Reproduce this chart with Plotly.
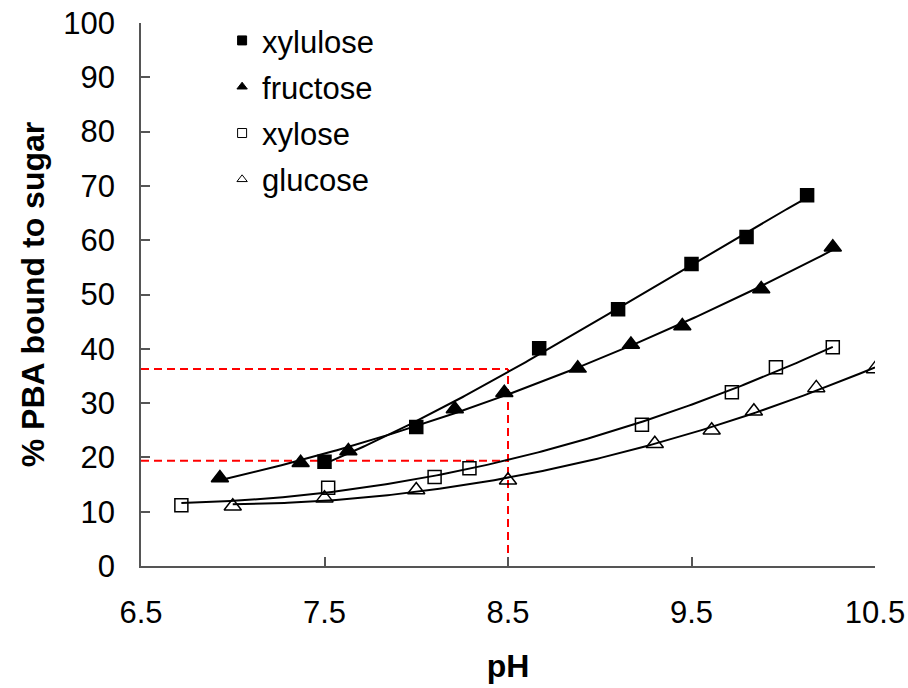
import numpy as np
import plotly.graph_objects as go

# ---- data ----
xylulose_ph = [7.50, 8.00, 8.67, 9.10, 9.50, 9.80, 10.13]
xylulose_pct = [19.2, 25.6, 40.1, 47.3, 55.6, 60.6, 68.3]

fructose_ph = [6.93, 7.37, 7.63, 8.21, 8.48, 8.88, 9.17, 9.45, 9.88, 10.27]
fructose_pct = [16.2, 19.0, 21.2, 28.9, 31.9, 36.4, 40.8, 44.2, 51.0, 58.7]

xylose_ph = [6.72, 7.52, 8.10, 8.29, 9.23, 9.72, 9.96, 10.27]
xylose_pct = [11.2, 14.4, 16.4, 18.0, 26.0, 32.0, 36.6, 40.3]

glucose_ph = [7.00, 7.50, 8.00, 8.50, 9.30, 9.61, 9.84, 10.18, 10.50]
glucose_pct = [11.0, 12.5, 14.0, 15.8, 22.5, 25.0, 28.5, 32.8, 36.3]

ref_ph = 8.5
ref_levels = [36.3, 19.4]

x_ticks = [6.5, 7.5, 8.5, 9.5, 10.5]
y_ticks = list(range(0, 101, 10))

FONT = "Arial, Liberation Sans, sans-serif"

series = [
    ("xylulose", xylulose_ph, xylulose_pct, "square", "black", 13, 3),
    ("fructose", fructose_ph, fructose_pct, "triangle-up", "black", 15, 2),
    ("xylose", xylose_ph, xylose_pct, "square-open", "black", 13, 2),
    ("glucose", glucose_ph, glucose_pct, "triangle-up-open", "black", 15, 2),
]

fig = go.Figure()

# red reference lines
for lvl in ref_levels:
    fig.add_trace(go.Scatter(x=[x_ticks[0], ref_ph], y=[lvl, lvl], mode="lines",
                             line=dict(color="#ff0000", width=2, dash="8px,5px"),
                             showlegend=False, hoverinfo="skip"))
fig.add_trace(go.Scatter(x=[ref_ph, ref_ph], y=[0, max(ref_levels)], mode="lines",
                         line=dict(color="#ff0000", width=2, dash="8px,5px"),
                         showlegend=False, hoverinfo="skip"))

# trend lines (polynomial fits of the data) + markers
for name, xs, ys, sym, col, size, deg in series:
    xs_a = np.array(xs)
    ys_a = np.array(ys)
    coef = np.polyfit(xs_a, ys_a, deg)
    xf = np.linspace(xs_a.min(), xs_a.max(), 200)
    yf = np.polyval(coef, xf)
    fig.add_trace(go.Scatter(x=xf, y=yf, mode="lines", line=dict(color="black", width=2),
                             showlegend=False, hoverinfo="skip"))
for name, xs, ys, sym, col, size, deg in series:
    fig.add_trace(go.Scatter(x=xs, y=ys, mode="markers", name=name,
                             marker=dict(symbol=sym, size=size, color=col,
                                         line=dict(color="black", width=1.5)),
                             showlegend=False))
# legend entries (smaller symbols)
for name, xs, ys, sym, col, size, deg in series:
    fig.add_trace(go.Scatter(x=[None], y=[None], mode="markers", name=name,
                             legendgroup=name,
                             marker=dict(symbol=sym, size=9, color=col,
                                         line=dict(color="black", width=1))))

fig.update_layout(
    width=908, height=688,
    margin=dict(l=141, r=33, t=23, b=122, autoexpand=False),
    paper_bgcolor="white", plot_bgcolor="white",
    font=dict(family=FONT, size=31, color="black"),
    showlegend=True,
    legend=dict(x=0.1105, y=1.017, xanchor="left", yanchor="top",
                bgcolor="rgba(0,0,0,0)", font=dict(size=31),
                tracegroupgap=3),
    xaxis=dict(range=[6.5, 10.5], tickvals=x_ticks, ticktext=[str(v) for v in x_ticks],
               showgrid=False, zeroline=False, showline=True, linecolor="#555555", linewidth=1.5,
               ticks="inside", ticklen=9, tickcolor="#555555", tickwidth=1.5,
               ticklabelstandoff=18, ticklabeloverflow="allow", automargin=False,
               title=dict(text="<b>pH</b>", font=dict(size=32), standoff=26)),
    yaxis=dict(range=[0, 100], tickvals=y_ticks,
               showgrid=False, zeroline=False, showline=True, linecolor="#555555", linewidth=1.5,
               ticks="inside", ticklen=9, tickcolor="#555555", tickwidth=1.5,
               ticklabelstandoff=18, ticklabeloverflow="allow", automargin=False,
               title=dict(text="<b>% PBA bound to sugar</b>", font=dict(size=32), standoff=9)),
)

fig.write_html("out.html", config={"displayModeBar": False},
               post_script="document.body.style.margin='0';")
